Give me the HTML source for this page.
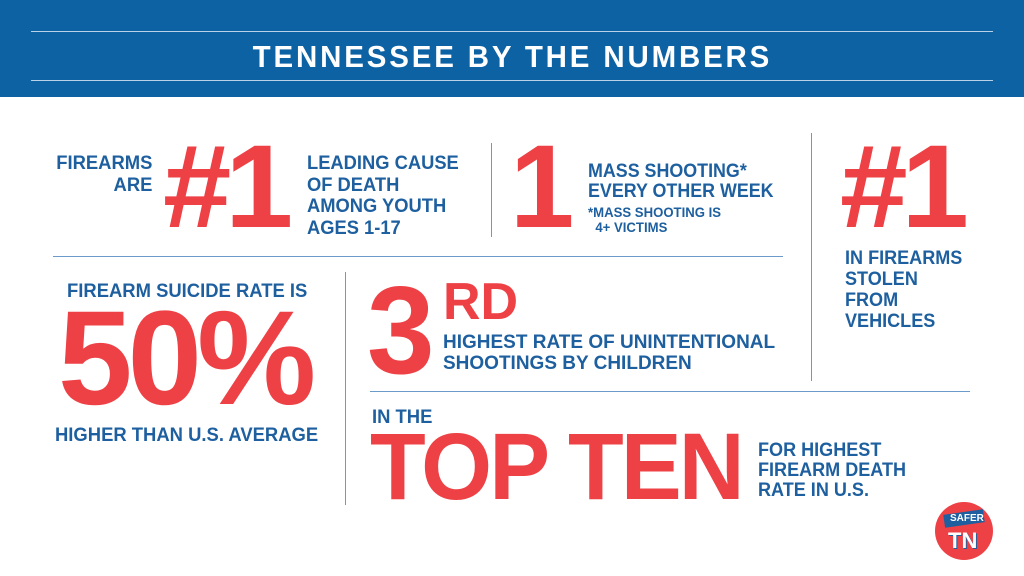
<!DOCTYPE html>
<html><head><meta charset="utf-8"><style>
body{margin:0;width:1024px;height:576px;background:#fff;position:relative;overflow:hidden;font-family:"Liberation Sans",sans-serif;font-weight:bold}
.a{position:absolute;white-space:nowrap;line-height:1}
.b{color:#1d5f9f}
.r{color:#ee4145}
.s{transform-origin:0 0}
.hl{position:absolute;background:#6a9bcb;height:1px}
.vl{position:absolute;background:#6a9bcb;width:1px}
</style></head><body>
<div style="position:absolute;left:0;top:0;width:1024px;height:97px;background:#0d62a3"></div>
<div style="position:absolute;left:31px;top:31px;width:962px;height:1px;background:#b9d2ea"></div>
<div style="position:absolute;left:31px;top:80px;width:962px;height:1px;background:#b9d2ea"></div>
<div class="a" style="left:0;width:1024px;text-align:center;top:41px;color:#fff;font-size:31px;letter-spacing:3px"><span style="display:inline-block;transform:scaleX(0.95)">TENNESSEE BY THE NUMBERS</span></div>

<div class="a b s" style="left:38px;top:153px;font-size:19px;line-height:22px;text-align:right;width:118px;transform:scaleX(0.97)">FIREARMS<br>ARE</div>
<div class="a r s" style="left:163px;top:128px;font-size:118px;letter-spacing:-6px;transform:scaleX(1.04)">#1</div>
<div class="a b s" style="left:307px;top:153px;font-size:19px;line-height:21.5px;transform:scaleX(0.965)">LEADING CAUSE<br>OF DEATH<br>AMONG YOUTH<br>AGES 1-17</div>
<div class="vl" style="left:491px;top:143px;height:94px"></div>
<div class="a r s" style="left:510px;top:128px;font-size:118px;transform:scaleX(0.98)">1</div>
<div class="a b s" style="left:588px;top:162px;font-size:19px;line-height:20px;transform:scaleX(0.94)">MASS SHOOTING*<br>EVERY OTHER WEEK</div>
<div class="a b s" style="left:588px;top:205px;font-size:14px;line-height:15px;transform:scaleX(0.94)">*MASS SHOOTING IS<br>&nbsp;&nbsp;4+ VICTIMS</div>
<div class="vl" style="left:811px;top:133px;height:248px"></div>
<div class="a r s" style="left:840px;top:128px;font-size:118px;letter-spacing:-6px;transform:scaleX(1.03)">#1</div>
<div class="a b s" style="left:845px;top:248px;font-size:19px;line-height:21px;transform:scaleX(0.95)">IN FIREARMS<br>STOLEN<br>FROM<br>VEHICLES</div>
<div class="hl" style="left:53px;top:256px;width:730px"></div>

<div class="a b s" style="left:67px;top:282px;font-size:19px;transform:scaleX(0.97)">FIREARM SUICIDE RATE IS</div>
<div class="a r s" style="left:58px;top:292px;font-size:134px;letter-spacing:-5px;transform:scaleX(1.0)">50%</div>
<div class="a b s" style="left:55px;top:426px;font-size:19px;transform:scaleX(0.97)">HIGHER THAN U.S. AVERAGE</div>
<div class="vl" style="left:345px;top:272px;height:233px"></div>
<div class="a r s" style="left:367px;top:269px;font-size:124px;transform:scaleX(0.98)">3</div>
<div class="a r s" style="left:443px;top:276px;font-size:52px;transform:scaleX(1.0)">RD</div>
<div class="a b s" style="left:443px;top:332px;font-size:19px;line-height:21px;transform:scaleX(1.0)">HIGHEST RATE OF UNINTENTIONAL<br>SHOOTINGS BY CHILDREN</div>
<div class="hl" style="left:370px;top:391px;width:600px"></div>
<div class="a b s" style="left:372px;top:408px;font-size:19px;transform:scaleX(0.97)">IN THE</div>
<div class="a r s" style="left:370px;top:420px;font-size:95px;letter-spacing:-3px;transform:scaleX(0.96)">TOP TEN</div>
<div class="a b s" style="left:758px;top:441px;font-size:19px;line-height:20px;transform:scaleX(0.95)">FOR HIGHEST<br>FIREARM DEATH<br>RATE IN U.S.</div>

<div style="position:absolute;left:935px;top:502px;width:58px;height:58px;border-radius:50%;background:#ee4145"></div>
<div style="position:absolute;left:944px;top:512px;width:40px;height:13px;background:#1d5f9f;transform:rotate(-8deg)"></div>
<div class="a" style="left:950px;top:514px;font-size:10px;color:#fff">SAFER</div>
<div class="a" style="left:948px;top:530px;font-size:22px;color:#fff;text-shadow:1px 1px 0 #1d5f9f">TN</div>
</body></html>
